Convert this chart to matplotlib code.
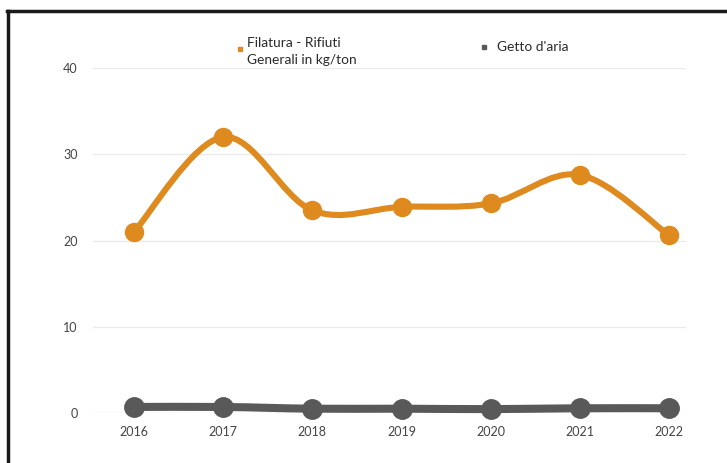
import matplotlib.pyplot as plt
from matplotlib.path import Path
from matplotlib.patches import PathPatch
from matplotlib.lines import Line2D

plt.rcParams['font.family'] = ['Lato', 'DejaVu Sans']

years = ['2016', '2017', '2018', '2019', '2020', '2021', '2022']
filatura = [21.0, 32.0, 23.5, 23.9, 24.3, 27.6, 20.6]
getto = [0.7, 0.7, 0.5, 0.5, 0.45, 0.55, 0.55]
yticks = [0, 10, 20, 30, 40]

ORANGE = '#de8a1e'
GREY = '#595959'


def smooth_path(xs, ys, k=0.17):
    # cubic bezier through every point (catmull-rom style tangents)
    verts = [(xs[0], ys[0])]
    codes = [Path.MOVETO]
    n = len(xs)
    for i in range(n - 1):
        i0, i2 = max(i - 1, 0), i + 1
        i3 = min(i + 2, n - 1)
        c1 = (xs[i] + (xs[i2] - xs[i0]) * k, ys[i] + (ys[i2] - ys[i0]) * k)
        c2 = (xs[i2] - (xs[i3] - xs[i]) * k, ys[i2] - (ys[i3] - ys[i]) * k)
        verts += [c1, c2, (xs[i2], ys[i2])]
        codes += [Path.CURVE4] * 3
    return Path(verts, codes)


fig = plt.figure(figsize=(7.27, 4.63), dpi=100)
ax = fig.add_axes([93 / 727, 50 / 463, 593 / 727, 345 / 463])

x = list(range(len(years)))
for vals, col, lw, ms in [(filatura, ORANGE, 4.4, 13), (getto, GREY, 5.8, 14)]:
    ax.add_patch(PathPatch(smooth_path(x, vals), fill=False, edgecolor=col,
                           lw=lw, capstyle='round', joinstyle='round',
                           clip_on=False, zorder=3))
    ax.plot(x, vals, 'o', color=col, ms=ms, mec=col, clip_on=False, zorder=4)

ax.set_xlim(-0.46, 6.19)
ax.set_ylim(0, 40)
ax.set_xticks(x, years)
ax.set_yticks(yticks)
ax.tick_params(length=0, labelsize=9, labelcolor='#444444')
ax.tick_params(axis='x', pad=9)
ax.tick_params(axis='y', pad=11)
ax.grid(axis='y', color='#ebebeb', lw=1)
ax.set_axisbelow(True)
for s in ax.spines.values():
    s.set_visible(False)

# legend drawn by hand at the top
fig.add_artist(Line2D([240 / 727], [1 - 49 / 463], marker='s', ms=3,
                      color=ORANGE, transform=fig.transFigure))
fig.text(247 / 727, 1 - 37 / 463, 'Filatura - Rifiuti\nGenerali in kg/ton',
         fontsize=9.9, color='#2b2b2b', va='top', ha='left', linespacing=1.5)
fig.add_artist(Line2D([484 / 727], [1 - 47 / 463], marker='s', ms=3,
                      color=GREY, transform=fig.transFigure))
fig.text(497 / 727, 1 - 47 / 463, "Getto d'aria", fontsize=9.9,
         color='#2b2b2b', va='center', ha='left')

# frame edges on left and top
fig.add_artist(Line2D([8 / 727, 8 / 727], [0, 1 - 10.5 / 463], color='#1a1a1a',
                      lw=2.5, transform=fig.transFigure))
fig.add_artist(Line2D([7 / 727, 1], [1 - 10.5 / 463, 1 - 10.5 / 463],
                      color='#1a1a1a', lw=2.5, transform=fig.transFigure))

fig.savefig('out.png', dpi=100)
